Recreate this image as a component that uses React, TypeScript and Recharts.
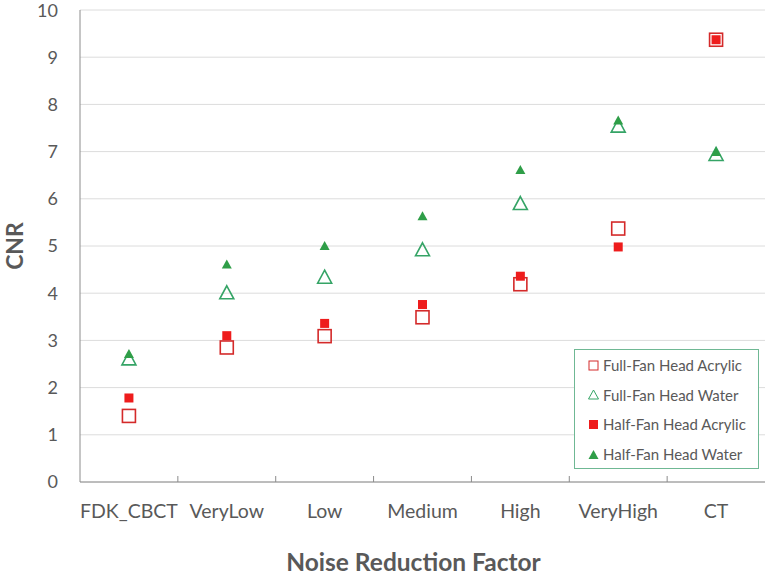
import {
  ComposedChart,
  Scatter,
  XAxis,
  YAxis,
  CartesianGrid,
} from "recharts";

const categories = ["FDK_CBCT", "VeryLow", "Low", "Medium", "High", "VeryHigh", "CT"];
const fullFanAcrylic = [1.4, 2.85, 3.09, 3.49, 4.19, 5.37, 9.37];
const fullFanWater = [2.62, 4.02, 4.35, 4.93, 5.91, 7.55, 6.95];
const halfFanAcrylic = [1.78, 3.1, 3.36, 3.76, 4.36, 4.98, 9.37];
const halfFanWater = [2.72, 4.62, 5.01, 5.64, 6.62, 7.67, 7.0];
const yTicks = [0, 1, 2, 3, 4, 5, 6, 7, 8, 9, 10];

const data = categories.map((name, i) => ({
  name,
  ffa: fullFanAcrylic[i],
  ffw: fullFanWater[i],
  hfa: halfFanAcrylic[i],
  hfw: halfFanWater[i],
}));

const RED = "#ee1c1c";
const RED_LINE = "#d42a2a";
const GREEN = "#2f9e48";
const GREEN_LINE = "#35a466";
const TEXT = "#595959";
const AXIS = "#8c8c8c";
const FONT = "Lato, 'Open Sans', sans-serif";

const OpenSquare = (props: any) => (
  <rect x={props.cx - 6.5} y={props.cy - 6.5} width={13} height={13} fill="none" stroke={RED_LINE} strokeWidth={1.6} />
);
const FilledSquare = (props: any) => (
  <rect x={props.cx - 4.5} y={props.cy - 4.5} width={9} height={9} fill={RED} />
);
const OpenTriangle = (props: any) => {
  const { cx, cy } = props;
  return (
    <polygon
      points={`${cx},${cy - 6.5} ${cx + 7},${cy + 6.5} ${cx - 7},${cy + 6.5}`}
      fill="none"
      stroke={GREEN_LINE}
      strokeWidth={1.6}
    />
  );
};
const FilledTriangle = (props: any) => {
  const { cx, cy } = props;
  return <polygon points={`${cx},${cy - 4.5} ${cx + 5},${cy + 4.5} ${cx - 5},${cy + 4.5}`} fill={GREEN} />;
};

const XTick = (props: any) => {
  const { x, y, payload, index } = props;
  const half = payload && payload.offset ? payload.offset : 49;
  return (
    <g>
      {index > 0 && <line x1={x - half} x2={x - half} y1={y - 6} y2={y} stroke={AXIS} strokeWidth={1} />}
      <text x={x} y={y + 35.5} textAnchor="middle" fill={TEXT} fontSize={19.5} fontFamily={FONT}>
        {payload.value}
      </text>
    </g>
  );
};

// axis titles, placed from the axis viewBox
const XTitle = (props: any) => {
  const vb = props.viewBox || { x: 80, y: 481.5, width: 685, height: 92 };
  return (
    <text
      x={vb.x + vb.width / 2 - 9}
      y={vb.y + vb.height - 3.5}
      textAnchor="middle"
      fill={TEXT}
      fontSize={24.5}
      fontWeight={700}
      fontFamily={FONT}
    >
      Noise Reduction Factor
    </text>
  );
};
const YTitle = (props: any) => {
  const vb = props.viewBox || { x: 0, y: 10.5, width: 80, height: 471 };
  const cy = vb.y + vb.height / 2;
  return (
    <text
      transform={`translate(14.5, ${cy}) rotate(-90)`}
      textAnchor="middle"
      dy="0.36em"
      fill={TEXT}
      fontSize={23}
      fontWeight={700}
      fontFamily={FONT}
    >
      CNR
    </text>
  );
};

const legendItems = [
  { label: "Full-Fan Head Acrylic", icon: <rect x={2} y={2} width={9} height={9} fill="none" stroke={RED_LINE} strokeWidth={1} /> },
  { label: "Full-Fan Head Water", icon: <polygon points="6.5,2 11.5,11 1.5,11" fill="none" stroke={GREEN_LINE} strokeWidth={1} /> },
  { label: "Half-Fan Head Acrylic", icon: <rect x={2} y={2} width={9} height={9} fill={RED} /> },
  { label: "Half-Fan Head Water", icon: <polygon points="6.5,2 11.5,11 1.5,11" fill={GREEN} /> },
];

export default function App() {
  return (
    <div style={{ position: "absolute", left: 0, top: 0, width: 768, height: 574, background: "#fff", fontFamily: FONT }}>
      <ComposedChart width={768} height={574} data={data} margin={{ top: 10, right: 3, bottom: 0, left: 0 }}>
        <CartesianGrid horizontal vertical={false} stroke="#dcdcdc" />
        <XAxis
          dataKey="name"
          type="category"
          scale="band"
          axisLine={{ stroke: AXIS }}
          tickLine={false}
          tickSize={0}
          tickMargin={0}
          height={92}
          interval={0}
          tick={<XTick />}
          label={{ content: <XTitle /> }}
        />
        <XAxis xAxisId="top" dataKey="name" scale="band" orientation="top" height={0} tick={false} tickLine={false} axisLine={{ stroke: AXIS }} />
        <YAxis
          domain={[0, 10]}
          ticks={yTicks}
          width={80}
          axisLine={{ stroke: AXIS }}
          tickLine={false}
          tickMargin={16}
          tick={{ fill: TEXT, fontSize: 18, fontFamily: FONT }}
          label={{ content: <YTitle /> }}
        />
        <YAxis yAxisId="right" orientation="right" domain={[0, 10]} width={0} tick={false} tickLine={false} axisLine={{ stroke: AXIS }} />
        <Scatter dataKey="ffa" shape={<OpenSquare />} isAnimationActive={false} />
        <Scatter dataKey="ffw" shape={<OpenTriangle />} isAnimationActive={false} />
        <Scatter dataKey="hfa" shape={<FilledSquare />} isAnimationActive={false} />
        <Scatter dataKey="hfw" shape={<FilledTriangle />} isAnimationActive={false} />
      </ComposedChart>
      <div
        style={{
          position: "absolute",
          left: 574,
          top: 349,
          width: 185,
          height: 120,
          border: "1px solid #6fb894",
          background: "#fff",
          boxSizing: "border-box",
          padding: "0.5px 0 0 12px",
        }}
      >
        {legendItems.map((it) => (
          <div key={it.label} style={{ display: "flex", alignItems: "center", height: 29.6, fontSize: 15, color: TEXT, whiteSpace: "nowrap" }}>
            <svg width={13} height={13} style={{ marginRight: 3, flexShrink: 0 }}>
              {it.icon}
            </svg>
            {it.label}
          </div>
        ))}
      </div>
    </div>
  );
}
